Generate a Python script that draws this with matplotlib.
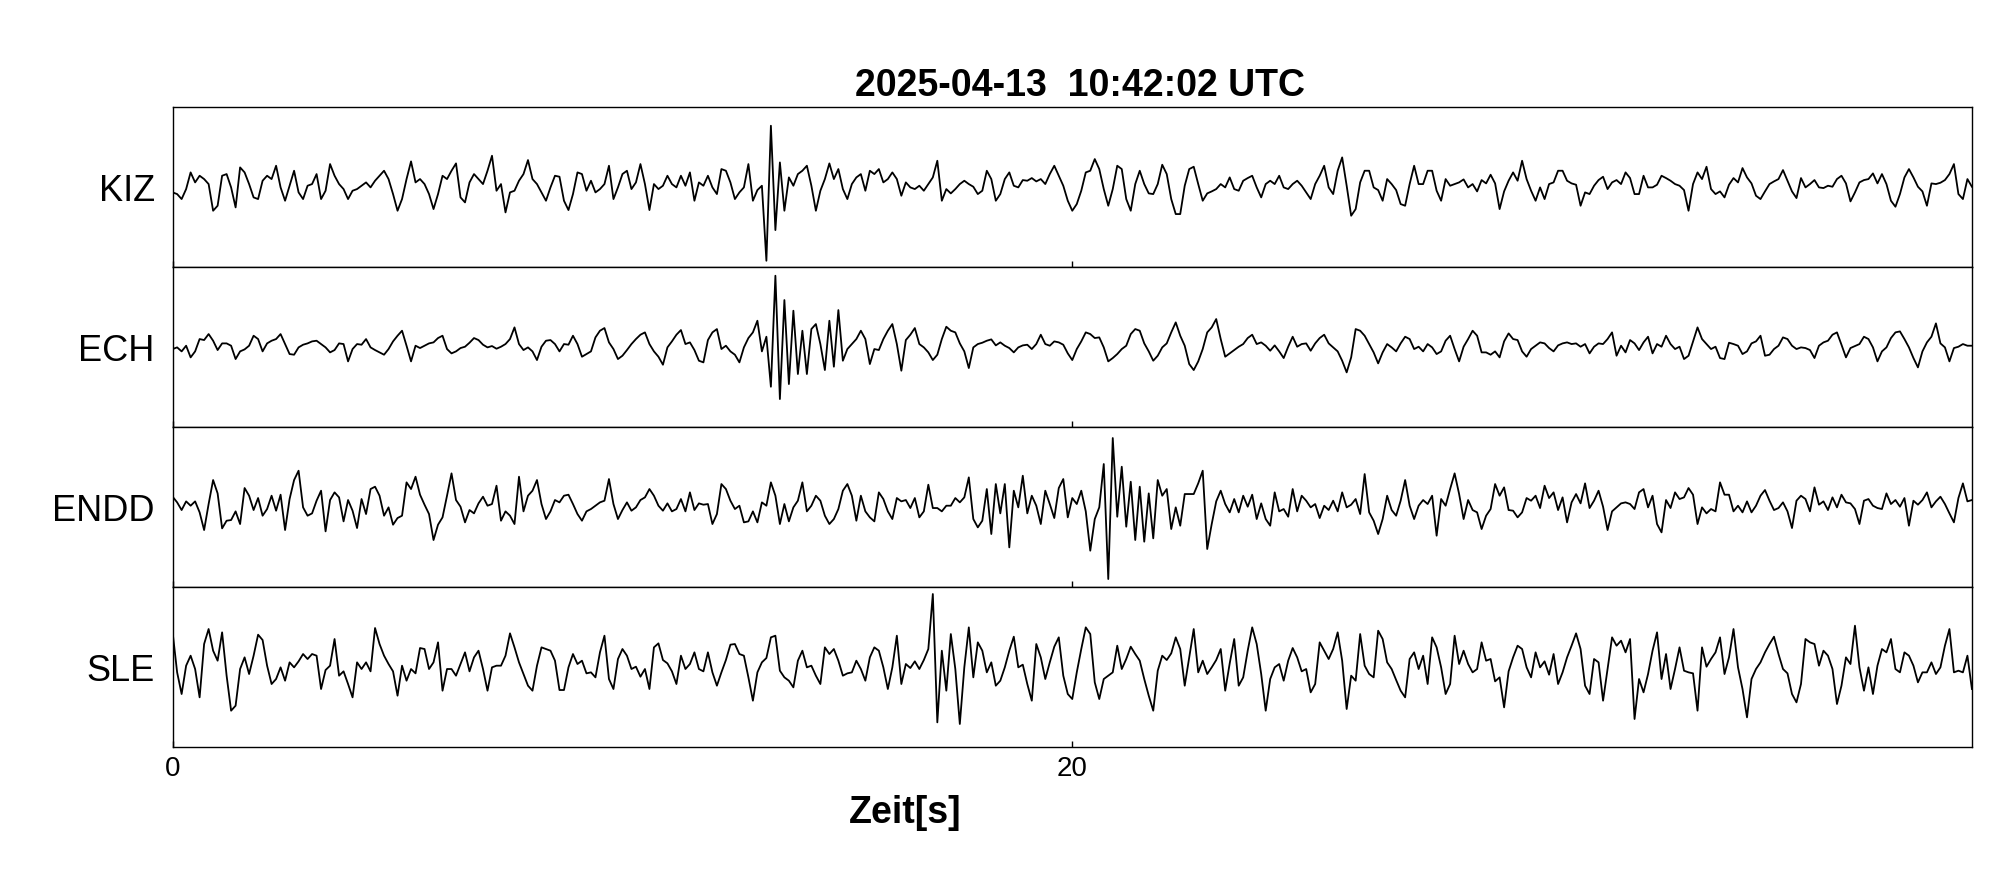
import numpy as np
import matplotlib
matplotlib.use("Agg")
import matplotlib.pyplot as plt

plt.rcParams['font.family'] = ['Liberation Sans', 'DejaVu Sans']

TITLE = "2025-04-13  10:42:02 UTC"
DT = 0.1  # sampling step of the read-off traces [s]
stations = ["KIZ", "ECH", "ENDD", "SLE"]

kiz = [
    -17, -22, -37, -7, 43, 13, 33, 23, 8, -72,
    -57, 33, 38, -2, -62, 58, 43, 8, -32, -37,
    18, 33, 23, 63, -2, -42, 3, 48, -17, -37,
    3, 8, 38, -37, -12, 68, 33, 8, -7, -37,
    -12, -7, 3, 13, -2, 18, 33, 48, 23, -22,
    -72, -37, 23, 76, 13, 23, 8, -22, -67, -22,
    33, 23, 48, 70, -32, -47, 13, 38, 23, 8,
    48, 93, -12, 8, -77, -17, -12, 18, 38, 80,
    23, 8, -17, -42, -2, 33, 30, -42, -70, -22,
    43, 38, -12, 18, -17, -7, 8, 63, -37, -2,
    38, 48, -7, 13, 68, 8, -70, 8, -7, 3,
    33, 8, -2, 33, 3, 43, -42, 13, 3, 33,
    -2, -22, 53, 48, 13, -37, -17, -2, 68, -42,
    -10, 3, -222, 183, -130, 73, -72, 28, 3, 38,
    48, 63, 3, -72, -12, 23, 70, 23, 53, -7,
    -37, 8, 28, 38, -12, 48, 38, 53, 13, 23,
    43, 23, -27, 13, -2, -7, 3, -12, 8, 28,
    78, -42, -7, -20, -7, 8, 18, 8, 0, -22,
    -12, 48, 23, -42, -22, 23, 43, 3, -2, 20,
    18, 26, 16, 23, 8, 38, 63, 33, 3, -42,
    -72, -52, -12, 43, 48, 83, 53, -7, -57, -7,
    63, 53, -37, -72, 8, 48, 8, -20, -22, 8,
    66, 38, -37, -82, -82, 3, 53, 60, 8, -42,
    -20, -14, -7, 8, -2, 28, -7, -12, 18, 26,
    33, -2, -32, 8, 18, 8, 33, -2, -7, 8,
    18, 3, -17, -37, 8, 33, 63, -2, -22, 48,
    88, 3, -87, -67, 13, 48, 48, -2, -10, -42,
    23, 8, -10, -52, -57, 8, 63, 8, 8, 48,
    48, -12, -42, 23, 3, 8, 13, 22, -2, 8,
    -14, 20, 10, 36, 10, -67, -14, 18, 43, 18,
    78, 23, -12, -42, -2, -37, 8, 13, 48, 48,
    18, 10, 6, -57, -17, -22, 3, 20, 30, -7,
    13, 20, 8, 43, 26, -22, -22, 33, -2, -2,
    6, 33, 26, 18, 8, 3, -10, -72, 8, 43,
    23, 60, -7, -22, -14, -32, 6, 26, 13, 56,
    28, 10, -27, -37, -14, 8, 16, 23, 50, 18,
    -14, -34, 26, -2, 8, 20, -2, -4, 3, 0,
    23, 33, 10, -44, -17, 13, 20, 23, 40, 10,
    38, 8, -42, -60, -22, 28, 53, 28, 0, -14,
    -57, 10, 8, 12, 20, 38, 68, -22, -37, 23,
    0,
]

ech = [
    -7, -2, -14, 3, -32, -14, 23, 20, 38, 18,
    -10, 10, 10, 3, -37, -14, -8, 3, 33, 23,
    -14, 10, 18, 23, 38, 8, -22, -24, -2, 6,
    10, 16, 18, 8, -2, -17, -10, 10, 8, -44,
    -7, 8, 6, 23, -2, -10, -17, -24, -7, 16,
    33, 48, 3, -44, 3, -4, 3, 10, 13, 26,
    33, -7, -20, -14, -4, 0, 12, 26, 20, 6,
    -2, 2, -6, 0, 8, 23, 58, 8, -10, -2,
    -14, -40, 0, 18, 20, 8, -14, 8, 6, 33,
    8, -30, -22, -14, 28, 48, 56, 13, -7, -37,
    -27, -10, 8, 23, 36, 43, 8, -14, -30, -54,
    -2, 16, 36, 50, 8, 13, -10, -42, -47, 20,
    43, 53, -7, 3, -14, -24, -47, -2, 26, 43,
    78, -14, 30, -120, 213, -157, 140, -112, 108, -82,
    48, -82, 53, 68, 8, -70, 78, -60, 110, -42,
    -7, 8, 23, 48, 23, -52, -7, -10, 23, 48,
    68, 8, -72, 20, 36, 56, 8, -2, -17, -40,
    -24, 23, 60, 48, 43, 10, -14, -64, -2, 8,
    12, 18, 22, 4, 13, 3, -4, -17, -2, 4,
    6, -7, 8, 36, 8, 3, 16, 13, 6, -20,
    -40, -7, 16, 43, 38, 26, 28, -2, -44, -34,
    -22, -7, 3, 38, 53, 48, 10, -14, -42, -27,
    -2, 10, 43, 73, 33, 3, -52, -70, -44, -7,
    43, 58, 83, 23, -30, -20, -10, 0, 8, 26,
    36, 8, 13, 3, -12, 4, -14, -34, 0, 30,
    0, 8, 10, -12, 10, 26, 36, 10, -2, -14,
    -42, -77, -32, 53, 48, 33, 8, -17, -50, -17,
    8, -2, -14, 10, 30, 23, -7, 0, -14, 8,
    -2, -22, -14, 18, 33, -7, -44, 0, 23, 48,
    33, -17, -17, -24, -14, -32, 16, 40, 23, 20,
    -14, -30, -7, 3, 13, 10, -4, -14, 4, 10,
    13, 8, 10, 0, 8, -20, 0, 10, 8, 23,
    43, -27, 3, -17, 20, 10, -10, 13, 30, -20,
    8, 0, 33, 8, -7, 0, -37, -27, 16, 58,
    23, 8, -7, 0, -34, -37, 12, 8, 3, -22,
    -14, 10, 16, 33, -27, -24, -7, 3, 28, 23,
    3, -7, -2, -4, -10, -34, 3, 13, 18, 36,
    43, 6, -32, -4, 2, 8, 30, 23, -2, -44,
    -14, -2, 26, 43, 46, 23, -2, -34, -62, -14,
    13, 30, 70, 10, -2, -44, -4, 0, 8, 3,
    3,
]

endd = [
    30, 13, -10, 16, 3, 16, -17, -70, 8, 80,
    40, -65, -42, -40, -14, -52, 56, 33, -10, 26,
    -27, -7, 33, -12, 36, -70, 23, 80, 108, -2,
    -27, -20, 18, 48, -74, 20, 43, 28, -44, 20,
    -12, -64, 23, -22, 53, 60, 33, -27, -2, -54,
    -34, -27, 73, 53, 90, 36, 6, -22, -100, -54,
    -32, 33, 100, 20, 0, -47, -10, -20, 10, 30,
    3, 8, 63, -42, -14, -27, -52, 90, -14, 33,
    48, 80, 8, -37, -14, 20, 13, 33, 36, 8,
    -22, -42, -14, -7, 3, 13, 18, 83, 8, -37,
    -10, 13, -12, -2, 20, 28, 53, 33, 3, -12,
    10, -14, -7, 23, -14, 43, -10, 10, 6, 8,
    -52, -22, 68, 53, 18, -7, 3, -47, -44, -14,
    -47, 13, 3, 73, 33, -52, 8, -44, -2, 18,
    73, -14, 3, 33, 18, -27, -52, -37, -7, 48,
    68, 33, -42, 33, -14, -32, -44, 43, 23, -14,
    -37, 26, 16, 20, -4, 26, -32, -14, 66, -4,
    -4, -14, 3, 3, 26, 13, 28, 88, -37, -62,
    -42, 53, -82, 68, -20, 68, -122, 48, -2, 93,
    -20, 33, 3, -52, 48, 8, -34, 56, 83, -32,
    26, 8, 48, -14, -132, -37, -2, 128, -217, 206,
    -30, 120, -60, 75, -100, 60, -105, 40, -95, 80,
    33, 53, -67, -2, -57, 38, 38, 38, 70, 108,
    -127, -52, 16, 48, 8, -17, 23, -17, 33, 0,
    36, -37, 10, -37, -57, 43, -14, -7, -30, 53,
    -14, 33, 18, -2, 8, -34, 3, -10, 18, -14,
    43, -2, 6, 23, -22, 98, -17, -42, -82, -37,
    33, -10, -27, 18, 80, 3, -37, 3, 20, 8,
    33, -87, 23, 3, 53, 100, 38, -37, 20, -10,
    -17, -67, -27, -7, 68, 33, 58, -10, -12, -32,
    -17, 26, 18, 33, -4, 63, 26, 43, -10, 28,
    -47, 13, 38, 10, 70, -4, 18, 48, 0, -70,
    -14, -2, 10, 13, 8, -7, 43, 53, -2, 33,
    -52, -77, 20, -4, 43, 23, 28, 56, 36, -52,
    -2, -20, -7, -14, 73, 36, 36, -14, 3, -17,
    16, -17, 3, 33, 50, 18, -10, -4, 13, -14,
    -64, 18, 33, 23, -14, 58, 6, 16, -10, 28,
    -2, 36, 13, 10, -7, -52, 18, 23, 3, -4,
    -7, 40, 8, 20, 0, 26, -57, 18, 6, 20,
    43, -2, 16, 30, 8, -20, -47, 26, 70, 16,
    20,
]

sle = [
    103, -17, -82, 3, 33, -7, -92, 68, 113, 48,
    18, 103, -27, -132, -117, -7, 28, -22, 33, 96,
    80, 3, -52, -37, -2, -42, 13, -2, 16, 38,
    23, 38, 33, -67, -10, 3, 83, -27, -14, -52,
    -92, 13, -7, 13, -14, 116, 68, 33, 8, -14,
    -87, 3, -42, -7, -20, 56, 53, -7, 13, 73,
    -72, -7, -7, -27, 8, 43, -14, 28, 48, -7,
    -72, -2, 3, 3, 33, 100, 58, 13, -22, -57,
    -72, 3, 58, 53, 48, 18, -70, -70, -2, 38,
    8, 18, -20, -17, -32, 43, 93, -37, -67, 23,
    53, 33, -7, 0, -30, -7, -67, 58, 70, 20,
    10, -14, -52, 33, -7, 8, 43, -7, -14, 43,
    -17, -57, -17, 20, 66, 68, 38, 33, -32, -102,
    -17, 13, 26, 88, 93, -12, -32, -42, -62, 18,
    48, -2, 3, -27, -52, 58, 38, 53, 18, -27,
    -20, -17, 18, -7, -42, 28, 58, 48, -2, -67,
    -2, 93, -52, 8, -4, 16, -7, 20, 53, 218,
    -167, 48, -72, 98, -7, -172, -2, 118, -32, 73,
    48, -17, 13, -57, -42, -2, 48, 90, -2, 6,
    -52, -102, 68, 28, -37, 13, 60, 88, -27, -82,
    -97, -17, 53, 118, 98, -47, -97, -37, -27, -17,
    63, -7, 23, 60, 38, 18, -37, -87, -132, -12,
    33, 20, 40, 88, 53, -57, 28, 113, -17, 18,
    -22, -2, 20, 53, -72, 10, 83, -57, -32, 48,
    118, 68, -22, -132, -37, -2, 8, -42, 18, 56,
    28, -14, -7, -77, -52, 73, 48, 23, 53, 103,
    18, -127, -27, -42, 98, 3, -22, -32, 108, 83,
    13, -7, -40, -72, -92, 23, 43, -7, 33, -52,
    88, 58, -2, -82, -52, 93, 8, 48, 8, -17,
    -7, 73, 18, 23, -44, -32, -122, -14, 28, 63,
    53, -2, -32, 43, -2, 16, -24, 38, -52, -17,
    28, 63, 100, 53, -57, -82, 23, 13, -102, -7,
    88, 63, 78, 43, 83, -157, -37, -77, -22, 48,
    103, -37, 38, -67, -7, 58, -12, -17, -20, -132,
    58, 0, 23, 43, 88, -22, 28, 113, -2, -67,
    -152, -37, -7, 13, 43, 68, 90, 38, -7, -20,
    -82, -107, -52, 83, 73, 68, 3, 48, 33, -7,
    -112, -57, 28, 8, 123, -2, -72, -2, -82, 3,
    53, 43, 83, -7, -17, 43, 33, 3, -47, -17,
    -17, 13, -22, -2, 63, 113, -17, -12, -17, 33,
    -67,
]

traces = [kiz, ech, endd, sle]
xticks = [0, 20]

fig = plt.figure(figsize=(20.05, 8.8), dpi=100)

left = 0.0861
width = 0.8974
height = 0.1818
bottoms = [0.6969, 0.5151, 0.3333, 0.1515]

axes = []
for i, (name, tr) in enumerate(zip(stations, traces)):
    ax = fig.add_axes([left, bottoms[i], width, height])
    t = np.arange(len(tr)) * DT
    ax.plot(t, tr, color="black", lw=1.3)
    ax.set_xlim(0, 40)
    ax.set_ylim(-240, 240)
    ax.set_yticks([])
    ax.set_xticks(xticks)
    ax.tick_params(axis="x", direction="in", length=4, width=1.0,
                   labelsize=20, pad=7, labelbottom=(i == 3))
    for sp in ax.spines.values():
        sp.set_linewidth(1.0)
    ax.text(-0.01, 0.47, name, transform=ax.transAxes, ha="right",
            va="center", fontsize=26)
    axes.append(ax)

axes[0].set_title(TITLE, fontsize=27, fontweight="bold", pad=8, x=0.5045)
fig.text(0.4514, 0.076, "Zeit[s]", ha="center", va="center",
         fontsize=27, fontweight="bold")

fig.savefig("out.png", dpi=100)
